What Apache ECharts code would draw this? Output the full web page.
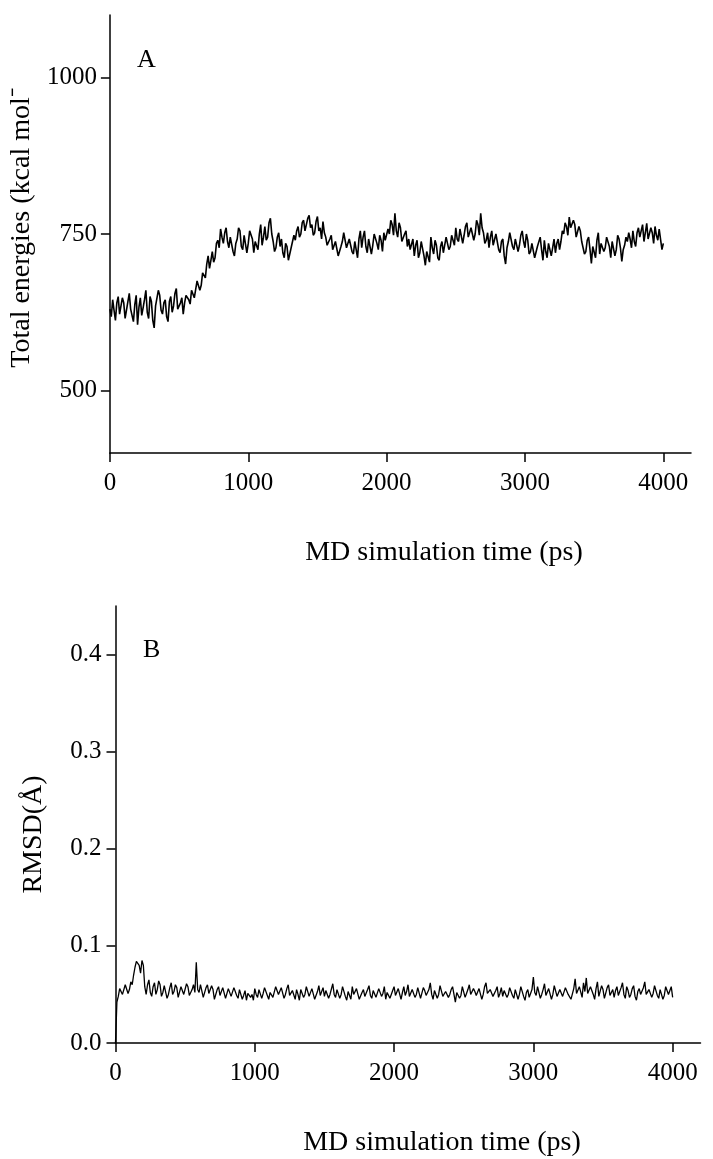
<!DOCTYPE html>
<html>
<head>
<meta charset="utf-8">
<script src="https://cdn.jsdelivr.net/npm/echarts@6/dist/echarts.min.js"></script>
<style>
html,body{margin:0;padding:0;background:#fff;}
#chart{width:713px;height:1159px;}
</style>
</head>
<body>
<div id="chart"></div>
<script>
// Sampling interval of both traces (ps)
const timeStep = 10;

// Panel A: total energies (kcal mol-1), one value every 10 ps from 0 to 4000 ps
const energyValues = [
  630,618, 645,628, 612,640, 650,622, 625,648, 640,615, 618,642, 655,630, 628,610, 637,652, 605,633, 648,620, 632,645, 660,625,
  615,650, 642,612, 600,635, 638,660, 652,628, 622,640, 645,618, 610,642, 650,625, 635,655, 663,630, 628,640, 648,622, 640,652,
  655,645, 638,660, 662,648, 650,675, 672,660, 668,688, 690,680, 702,715, 695,708, 722,705, 712,735, 740,728, 758,745,
  735,752, 760,738, 728,745, 748,722, 715,735, 742,760, 755,730, 725,748, 745,720, 735,755, 758,742, 720,738, 740,725,
  750,765, 732,745, 762,740, 745,768, 775,750, 738,722, 728,745, 752,730, 742,720,
  712,735, 730,708, 705,728, 725,748,
  740,755, 762,745, 750,768, 772,755, 758,775, 780,760, 765,748, 752,770, 778,755, 760,742, 770,752, 745,732,
  730,742, 748,725, 722,738, 740,715, 712,730, 738,752, 750,728, 725,742, 745,722, 718,738, 735,712, 742,755, 728,745,
  755,730, 720,742, 740,718, 732,750, 748,735, 725,748, 740,722, 752,740, 738,758,
  750,772, 765,748, 783,755, 745,768, 760,738, 735,750, 755,730, 742,725,
  728,742, 715,732, 740,712, 720,738, 735,715, 700,722, 725,705, 745,728, 718,740, 732,712, 708,730, 738,720, 722,745, 742,725, 730,748,
  745,732, 760,742, 738,758, 755,735, 748,762, 768,745, 742,760, 758,740, 750,772, 765,748, 783,760, 752,735,
  740,752, 728,745, 755,732, 735,750, 748,725, 720,738, 742,715, 702,728, 738,752, 750,730, 725,742, 745,722, 732,748, 755,738, 728,750, 740,718,
  722,735, 738,712, 715,730, 732,745, 725,708, 740,722, 712,735, 735,715, 728,742, 720,735, 742,725, 738,755,
  750,768, 762,748, 777,760, 758,772, 765,745, 748,762, 755,738,
  735,718, 722,740, 745,725, 703,730, 730,712, 740,752, 718,735, 738,722, 728,745, 748,730, 712,738, 735,715, 725,748, 742,728, 706,725, 732,745, 738,752,
  742,728, 755,738, 730,752, 760,745, 748,765, 738,752, 767,742, 745,760, 752,735, 762,748, 740,758, 755,725, 735
];

// Panel B: RMSD (Å), one value every 10 ps from 0 to 4000 ps
const rmsdValues = [
  0.0,0.042, 0.048,0.056, 0.058,0.05, 0.052,0.06, 0.062,0.051, 0.055,0.063, 0.06,0.07, 0.078,0.084, 0.086,0.08, 0.072,0.085,
  0.08,0.058, 0.05,0.06, 0.065,0.052, 0.048,0.058, 0.062,0.05, 0.055,0.064, 0.06,0.048, 0.052,0.059, 0.058,0.046, 0.05,0.057,
  0.062,0.05, 0.053,0.06, 0.057,0.047, 0.049,0.058, 0.056,0.05, 0.052,0.061, 0.058,0.049, 0.05,0.055, 0.06,0.052, 0.083,0.055,
  0.052,0.06, 0.058,0.047, 0.048,0.057, 0.06,0.051, 0.05,0.059, 0.055,0.045, 0.046,0.055, 0.058,0.049, 0.05,0.057, 0.056,0.046,
  0.047,0.056, 0.054,0.048, 0.05,0.057, 0.058,0.049, 0.046,0.055, 0.053,0.045, 0.049,0.054, 0.044,0.051, 0.052,0.047,
  0.05,0.044, 0.056,0.05, 0.047,0.055, 0.054,0.046, 0.051,0.057, 0.058,0.049, 0.045,0.052, 0.053,0.047, 0.049,0.058, 0.056,0.05,
  0.048,0.057, 0.055,0.046, 0.05,0.056, 0.06,0.049, 0.047,0.054, 0.052,0.045, 0.055,0.05, 0.044,0.055, 0.053,0.047, 0.05,0.058,
  0.057,0.048, 0.049,0.056, 0.054,0.045, 0.046,0.053, 0.059,0.049, 0.051,0.057, 0.048,0.054, 0.055,0.046, 0.05,0.052, 0.061,0.05,
  0.047,0.055, 0.053,0.046, 0.05,0.058, 0.056,0.048, 0.044,0.053, 0.052,0.045, 0.058,0.05, 0.049,0.056, 0.054,0.045, 0.047,0.052,
  0.055,0.048, 0.05,0.055, 0.059,0.049, 0.046,0.054, 0.053,0.047, 0.049,0.056, 0.057,0.048, 0.051,0.058, 0.045,0.052, 0.054,0.046,
  0.05,0.054, 0.058,0.049, 0.047,0.056, 0.055,0.045, 0.052,0.058, 0.049,0.053, 0.06,0.048, 0.046,0.055, 0.053,0.047, 0.05,0.057,
  0.056,0.046, 0.048,0.057, 0.054,0.049, 0.051,0.055, 0.062,0.05, 0.045,0.054, 0.053,0.046, 0.05,0.059, 0.057,0.048, 0.047,0.053,
  0.054,0.047, 0.05,0.055, 0.058,0.05, 0.042,0.052, 0.053,0.046, 0.049,0.058, 0.056,0.047, 0.051,0.055, 0.06,0.05, 0.048,0.056,
  0.053,0.049, 0.047,0.056, 0.057,0.045, 0.05,0.058, 0.062,0.051, 0.049,0.055, 0.054,0.048, 0.046,0.054, 0.058,0.047, 0.051,0.057,
  0.048,0.054, 0.055,0.047, 0.05,0.057, 0.059,0.049, 0.046,0.055, 0.053,0.045, 0.05,0.058, 0.056,0.048, 0.044,0.052, 0.055,0.047,
  0.051,0.055, 0.068,0.052, 0.049,0.058, 0.056,0.046, 0.05,0.055, 0.061,0.049, 0.047,0.056, 0.054,0.045, 0.05,0.059, 0.057,0.048,
  0.046,0.055, 0.053,0.048, 0.049,0.057, 0.058,0.05, 0.051,0.045, 0.047,0.056, 0.066,0.051, 0.05,0.058, 0.056,0.047, 0.062,0.053,
  0.067,0.051, 0.049,0.058, 0.057,0.05, 0.045,0.056, 0.063,0.048, 0.05,0.059, 0.055,0.046, 0.048,0.057, 0.06,0.049, 0.052,0.055,
  0.047,0.054, 0.058,0.049, 0.051,0.057, 0.062,0.05, 0.046,0.058, 0.054,0.047, 0.05,0.056, 0.059,0.048, 0.044,0.053, 0.056,0.05,
  0.05,0.057, 0.063,0.05, 0.048,0.055, 0.055,0.047, 0.051,0.059, 0.058,0.049, 0.046,0.055, 0.054,0.045, 0.049,0.058, 0.056,0.05,
  0.052,0.058, 0.047
];

// Tick labels
const timeTicks = [0, 1000, 2000, 3000, 4000];
const energyTicks = [500, 750, 1000];
const rmsdTicks = [0, 0.1, 0.2, 0.3, 0.4];

const xTitle = 'MD simulation time (ps)';
const yTitleA = 'Total energies (kcal mol\u207B';
const yTitleB = 'RMSD(\u00C5)';
const panelLabels = ['A', 'B'];

const FONT = '"Liberation Serif", "Times New Roman", serif';

function toPairs(vals) {
  return vals.map((v, i) => [i * timeStep, v]);
}

const axisLineStyle = { lineStyle: { color: '#000', width: 1.5 } };
const tickStyle = { show: true, length: 9, lineStyle: { color: '#000', width: 1.5 } };

function xAxisDef(gridIndex, namePad) {
  return {
    type: 'value', gridIndex: gridIndex, min: 0, max: 4200,
    name: xTitle, nameLocation: 'middle', nameGap: 86,
    nameTextStyle: { fontFamily: FONT, fontSize: 28, color: '#000', padding: [0, 0, 0, namePad] },
    axisLine: axisLineStyle,
    axisTick: Object.assign({ customValues: timeTicks }, tickStyle),
    axisLabel: { customValues: timeTicks, fontFamily: FONT, fontSize: 25, color: '#000', margin: 18,
      formatter: v => String(v) },
    splitLine: { show: false }
  };
}

const option = {
  animation: false,
  backgroundColor: '#fff',
  grid: [
    { left: 106, top: 15, width: 585, height: 438, containLabel: false },
    { left: 115.5, top: 606, width: 585, height: 437, containLabel: false }
  ],
  xAxis: [ xAxisDef(0, 87), xAxisDef(1, 68) ],
  yAxis: [
    {
      type: 'value', gridIndex: 0, min: 400, max: 1100,
      name: yTitleA, nameLocation: 'middle', nameGap: 69,
      nameTextStyle: { fontFamily: FONT, fontSize: 28, color: '#000', padding: [0, 0, 0, 12] },
      axisLine: { show: true, lineStyle: { color: '#000', width: 1.5 } },
      axisTick: Object.assign({ customValues: energyTicks }, tickStyle),
      axisLabel: { customValues: energyTicks, fontFamily: FONT, fontSize: 25, color: '#000', margin: 13,
        formatter: v => String(v) },
      splitLine: { show: false }
    },
    {
      type: 'value', gridIndex: 1, min: 0, max: 0.45,
      name: yTitleB, nameLocation: 'middle', nameGap: 68,
      nameTextStyle: { fontFamily: FONT, fontSize: 28, color: '#000', padding: [0, 20, 0, 0] },
      axisLine: { show: true, lineStyle: { color: '#000', width: 1.5 } },
      axisTick: Object.assign({ customValues: rmsdTicks }, tickStyle),
      axisLabel: { customValues: rmsdTicks, fontFamily: FONT, fontSize: 25, color: '#000', margin: 14,
        formatter: v => v.toFixed(1) },
      splitLine: { show: false }
    }
  ],
  graphic: [
    { type: 'text', left: 137, top: 47, style: { text: panelLabels[0], font: '26px ' + FONT, fill: '#000' } },
    { type: 'text', left: 143, top: 637, style: { text: panelLabels[1], font: '26px ' + FONT, fill: '#000' } }
  ],
  series: [
    {
      type: 'line', xAxisIndex: 0, yAxisIndex: 0, data: toPairs(energyValues),
      showSymbol: false, symbol: 'none', lineStyle: { color: '#000', width: 1.6 }
    },
    {
      type: 'line', xAxisIndex: 1, yAxisIndex: 1, data: toPairs(rmsdValues),
      showSymbol: false, symbol: 'none', lineStyle: { color: '#000', width: 1.3 }
    }
  ]
};

const chart = echarts.init(document.getElementById('chart'), null, { renderer: 'canvas' });
chart.setOption(option);
</script>
</body>
</html>
